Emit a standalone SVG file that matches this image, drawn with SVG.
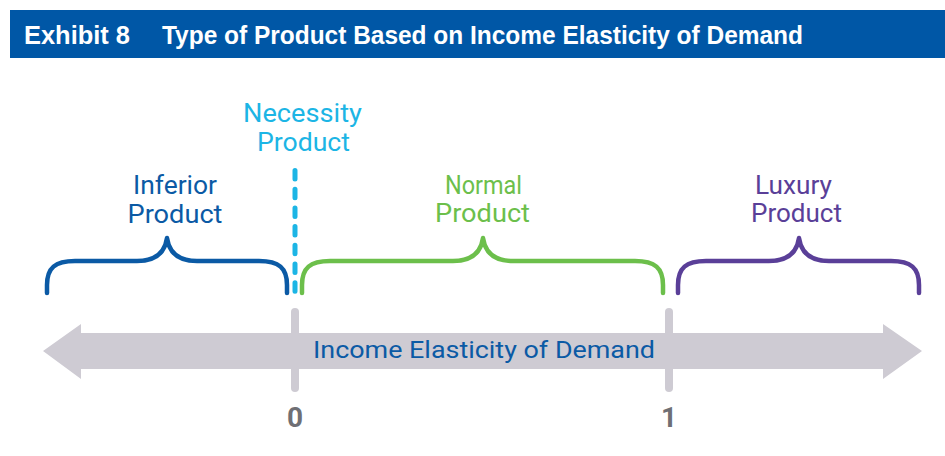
<svg xmlns="http://www.w3.org/2000/svg" width="945" height="456" viewBox="0 0 945 456">
  <style>
    .hdr { font-family: "Liberation Sans", Arial, sans-serif; font-weight: bold; font-size: 25px; fill: #ffffff; }
    .lbl { font-family: Roboto, "Noto Sans", sans-serif; font-size: 25px; text-anchor: middle; }
    .axis-lbl { font-family: Roboto, "Noto Sans", sans-serif; font-size: 24px; fill: #0B5AA5; text-anchor: middle; }
    .tick-lbl { font-family: Roboto, "Noto Sans", sans-serif; font-weight: bold; font-size: 28px; fill: #6F6F74; text-anchor: middle; }
    .brace { fill: none; stroke-width: 4.5; stroke-linecap: round; stroke-linejoin: round; }
    .tick { stroke: #CECBD3; stroke-width: 8; stroke-linecap: round; }
  </style>

  <rect width="945" height="456" fill="#ffffff"/>

  <!-- header bar -->
  <g id="header">
    <rect x="10" y="10" width="935" height="48" fill="#0057A6"/>
    <text class="hdr" x="24" y="44" textLength="106" lengthAdjust="spacingAndGlyphs">Exhibit 8</text>
    <text class="hdr" x="162" y="44" textLength="641" lengthAdjust="spacingAndGlyphs">Type of Product Based on Income Elasticity of Demand</text>
  </g>

  <!-- double-headed axis arrow with ticks -->
  <g id="axis">
    <polygon points="43,351 81,324 81,333 883,333 883,324 922,351 883,379 883,369 81,369 81,379" fill="#CECBD3"/>
    <line class="tick" x1="295" y1="312" x2="295" y2="388"/>
    <line class="tick" x1="669" y1="312" x2="669" y2="388"/>
    <text class="axis-lbl" x="484" y="358" textLength="342" lengthAdjust="spacingAndGlyphs">Income Elasticity of Demand</text>
    <text class="tick-lbl" x="295" y="427">0</text>
    <text class="tick-lbl" x="669" y="427">1</text>
  </g>

  <!-- inferior product -->
  <g id="inferior">
    <path class="brace" stroke="#0B5AA5" d="M47,293 L47,285 C47,268 55,261 75,261 L137,261 C156,261 165,252 167,238 C169,252 178,261 197,261 L259,261 C279,261 287,268 287,285 L287,293"/>
    <text class="lbl" fill="#0B5AA5" x="175" y="194" textLength="84" lengthAdjust="spacingAndGlyphs">Inferior</text>
    <text class="lbl" fill="#0B5AA5" x="175" y="223" textLength="95" lengthAdjust="spacingAndGlyphs">Product</text>
  </g>

  <!-- necessity product -->
  <g id="necessity">
    <line x1="295" y1="170.5" x2="295" y2="293" stroke="#1CB5E5" stroke-width="5" stroke-linecap="round" stroke-dasharray="8.5 10.2"/>
    <text class="lbl" fill="#1CB5E5" x="302.5" y="122" textLength="119" lengthAdjust="spacingAndGlyphs">Necessity</text>
    <text class="lbl" fill="#1CB5E5" x="303.5" y="151" textLength="93" lengthAdjust="spacingAndGlyphs">Product</text>
  </g>

  <!-- normal product -->
  <g id="normal">
    <path class="brace" stroke="#6CBF4B" d="M302,293 L302,285 C302,268 310,261 330,261 L453,261 C472,261 481,252 483,238 C485,252 494,261 513,261 L635,261 C655,261 663,268 663,285 L663,293"/>
    <text class="lbl" fill="#6CBF4B" x="483.5" y="194" textLength="77" lengthAdjust="spacingAndGlyphs">Normal</text>
    <text class="lbl" fill="#6CBF4B" x="482.5" y="222" textLength="95" lengthAdjust="spacingAndGlyphs">Product</text>
  </g>

  <!-- luxury product -->
  <g id="luxury">
    <path class="brace" stroke="#5A3F98" d="M678,293 L678,285 C678,268 686,261 706,261 L769,261 C788,261 797,252 799,238 C801,252 810,261 829,261 L891,261 C911,261 919,268 919,285 L919,293"/>
    <text class="lbl" fill="#5A3F98" x="793.5" y="194" textLength="77" lengthAdjust="spacingAndGlyphs">Luxury</text>
    <text class="lbl" fill="#5A3F98" x="796.5" y="222" textLength="91" lengthAdjust="spacingAndGlyphs">Product</text>
  </g>
</svg>
